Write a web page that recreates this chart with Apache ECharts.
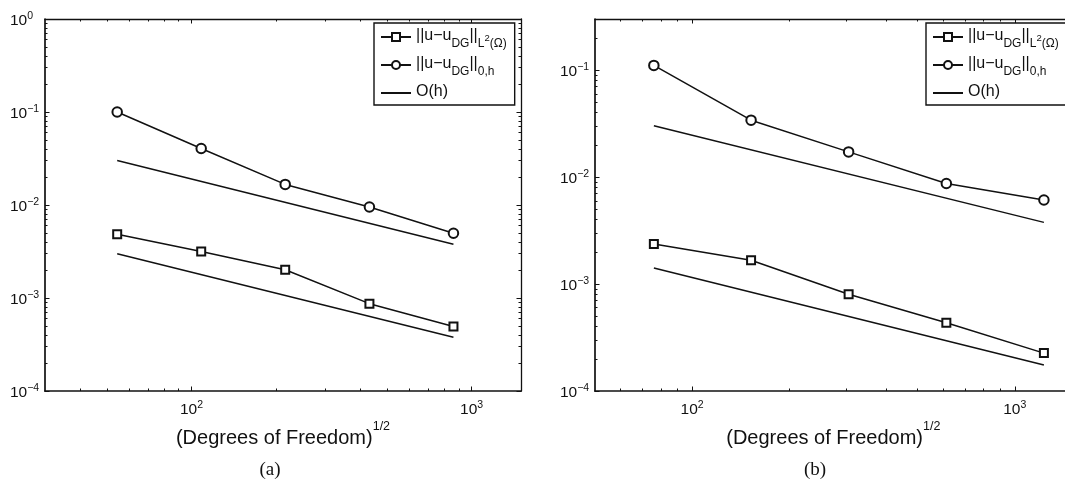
<!DOCTYPE html>
<html><head><meta charset="utf-8">
<script src="https://cdn.jsdelivr.net/npm/echarts@6/dist/echarts.min.js"></script>
<style>html,body{margin:0;padding:0;background:#fff}#c{width:1065px;height:481px}</style>
</head><body><div id="c"></div>
<script>
// ---------- data, panel (a) ----------
const xA   = [54.3, 108.3, 216, 431.6, 861];
const l2A  = [0.00485, 0.00316, 0.00201, 0.000869, 0.000493];
const h0A  = [0.1, 0.0405, 0.01665, 0.00952, 0.00497];
const ohXA = [54.3, 861];
const ohUpA  = [0.0301, 0.00379];
const ohLowA = [0.00299, 0.000379];
// ---------- data, panel (b) ----------
const xB   = [76.1, 152.3, 305.5, 613.6, 1231];
const l2B  = [0.002366, 0.001667, 0.000803, 0.000434, 0.000226];
const h0B  = [0.1105, 0.034, 0.01718, 0.0087, 0.0061];
const ohXB = [76.1, 1231];
const ohUpB  = [0.0301, 0.00377];
const ohLowB = [0.00141, 0.000175];
// ---------- ticks ----------
const majorXTicks  = [100, 1000];
const majorYTicksA = [0.0001, 0.001, 0.01, 0.1, 1];
const majorYTicksB = [0.0001, 0.001, 0.01, 0.1];
const minorXTicksA = [40, 50, 60, 70, 80, 90, 200, 300, 400, 500, 600, 700, 800, 900];
const minorXTicksB = [60, 70, 80, 90, 200, 300, 400, 500, 600, 700, 800, 900];
const minorYTicksA = [0.0002,0.0003,0.0004,0.0005,0.0006,0.0007,0.0008,0.0009,
                      0.002,0.003,0.004,0.005,0.006,0.007,0.008,0.009,
                      0.02,0.03,0.04,0.05,0.06,0.07,0.08,0.09,
                      0.2,0.3,0.4,0.5,0.6,0.7,0.8,0.9];
const minorYTicksB = [0.0002,0.0003,0.0004,0.0005,0.0006,0.0007,0.0008,0.0009,
                      0.002,0.003,0.004,0.005,0.006,0.007,0.008,0.009,
                      0.02,0.03,0.04,0.05,0.06,0.07,0.08,0.09,
                      0.2];
const xLabelText = '(Degrees of Freedom)';
const xLabelSup = '1/2';
const seriesNames = ['L2', 'H0', 'OH'];
const legendText = {
  L2: '{m|||u\u2212u}{s|DG}{m|||}{s|L}{p|2}{s|(\u03a9)}',
  H0: '{m|||u\u2212u}{s|DG}{m|||}{s|0,h}',
  OH: '{m|O(h)}'
};

const FONT = '"Liberation Sans", Arial, Helvetica, sans-serif';
const INK = '#111';

function expLabel(v) {
  const e = Math.round(Math.log10(v));
  return '{b|10}{e|' + String(e).replace('-', '\u2212') + '}';
}
const xRich = {
  b: {fontSize: 15.5, fontFamily: FONT, color: INK, lineHeight: 16, padding: [3, 0, 0, 0]},
  e: {fontSize: 10.5, fontFamily: FONT, color: INK, lineHeight: 11, verticalAlign: 'top'}
};
const yRich = {
  b: {fontSize: 15.5, fontFamily: FONT, color: INK, lineHeight: 16, padding: [3, 0, 0, 0]},
  e: {fontSize: 10.5, fontFamily: FONT, color: INK, lineHeight: 11, verticalAlign: 'top'}
};
const nameRich = {
  n: {fontSize: 20, fontFamily: FONT, color: INK, lineHeight: 22, padding: [14, 0, 0, 0]},
  s: {fontSize: 12.5, fontFamily: FONT, color: INK, lineHeight: 13, verticalAlign: 'top'}
};
const legendRich = {
  m: {fontSize: 16, fontFamily: FONT, color: INK, lineHeight: 18, verticalAlign: 'top'},
  s: {fontSize: 12, fontFamily: FONT, color: INK, lineHeight: 13, padding: [10, 0, 0, 0], verticalAlign: 'top'},
  p: {fontSize: 9.5, fontFamily: FONT, color: INK, lineHeight: 10, padding: [5, 0, 0, 0], verticalAlign: 'top'}
};

function xAxis(grid, min, max, position, ticks, len, showLabel, showLine, withName) {
  return {
    type: 'log', logBase: 10, gridIndex: grid, min: min, max: max, position: position,
    axisLine: {show: showLine, onZero: false, lineStyle: {color: INK, width: position === 'bottom' ? 1.7 : 1.3}},
    axisTick: {show: true, inside: true, length: len, customValues: ticks, lineStyle: {color: INK, width: 1}},
    axisLabel: {show: showLabel, customValues: ticks, formatter: expLabel, margin: 9, rich: xRich},
    splitLine: {show: false}, minorTick: {show: false},
    name: withName ? '{n|' + xLabelText + '}{s|' + xLabelSup + '}' : '',
    nameLocation: 'middle', nameGap: 29, nameMoveOverlap: false,
    nameTextStyle: {rich: nameRich, fontFamily: FONT, color: INK}
  };
}
function yAxis(grid, min, max, position, ticks, len, showLabel, showLine) {
  return {
    type: 'log', logBase: 10, gridIndex: grid, min: min, max: max, position: position,
    axisLine: {show: showLine, onZero: false, lineStyle: {color: INK, width: position === 'left' ? 1.7 : 1.3}},
    axisTick: {show: true, inside: true, length: len, customValues: ticks, lineStyle: {color: INK, width: 1}},
    axisLabel: {show: showLabel, customValues: ticks, formatter: expLabel, margin: 35, align: 'left', rich: yRich},
    splitLine: {show: false}, minorTick: {show: false}
  };
}
function panelX(grid, min, max, minor) {
  return [
    xAxis(grid, min, max, 'bottom', majorXTicks, 4.5, true, true, true),
    xAxis(grid, min, max, 'top', majorXTicks, 4.5, false, true, false),
    xAxis(grid, min, max, 'bottom', minor, 2.5, false, false, false),
    xAxis(grid, min, max, 'top', minor, 2.5, false, false, false)
  ];
}
function panelY(grid, min, max, major, minor) {
  return [
    yAxis(grid, min, max, 'left', major, 4.5, true, true),
    yAxis(grid, min, max, 'right', major, 4.5, false, true),
    yAxis(grid, min, max, 'left', minor, 2.5, false, false),
    yAxis(grid, min, max, 'right', minor, 2.5, false, false)
  ];
}
function pairs(xs, ys) { return xs.map((x, i) => [x, ys[i]]); }
function line(name, xs, ys, axisIdx, symbol, size) {
  return {
    type: 'line', name: name, xAxisIndex: axisIdx, yAxisIndex: axisIdx,
    data: pairs(xs, ys), symbol: symbol, symbolSize: size, showSymbol: symbol !== 'none',
    lineStyle: {color: INK, width: 1.5},
    itemStyle: {color: INK, borderColor: INK, borderWidth: 1.3},
    emphasis: {disabled: true}, silent: true, animation: false
  };
}
function legend(left) {
  return {
    orient: 'vertical', left: left, top: 23,
    data: [{name: 'L2'}, {name: 'H0'}, {name: 'OH', itemStyle: {opacity: 0}}],
    formatter: n => legendText[n],
    itemWidth: 30, itemHeight: 10, itemGap: 6, padding: [5, 8, 5, 6],
    backgroundColor: '#fff', borderColor: INK, borderWidth: 1.4, borderRadius: 0,
    textStyle: {fontFamily: FONT, color: INK, fontSize: 16, rich: legendRich},
    selectedMode: false
  };
}

const chart = echarts.init(document.getElementById('c'), null, {renderer: 'canvas'});
chart.setOption({
  animation: false,
  backgroundColor: '#fff',
  grid: [
    {left: 45, top: 19, width: 476, height: 372, outerBoundsMode: 'none', containLabel: false},
    {left: 595, top: 19, width: 476.6, height: 372, outerBoundsMode: 'none', containLabel: false}
  ],
  xAxis: panelX(0, 30, 1500, minorXTicksA).concat(panelX(1, 50, 1500, minorXTicksB)),
  yAxis: panelY(0, 0.0001, 1, majorYTicksA, minorYTicksA).concat(panelY(1, 0.0001, 0.3, majorYTicksB, minorYTicksB)),
  legend: [legend(374), legend(926)],
  series: [
    line('L2', xA, l2A, 0, 'emptyRect', 8),
    line('H0', xA, h0A, 0, 'emptyCircle', 9.5),
    line('OH', ohXA, ohUpA, 0, 'none', 0),
    line('OH', ohXA, ohLowA, 0, 'none', 0),
    line('L2', xB, l2B, 4, 'emptyRect', 8),
    line('H0', xB, h0B, 4, 'emptyCircle', 9.5),
    line('OH', ohXB, ohUpB, 4, 'none', 0),
    line('OH', ohXB, ohLowB, 4, 'none', 0)
  ],
  graphic: [
    {type: 'text', x: 270, y: 470, style: {text: '(a)', font: '19px "Liberation Serif", "DejaVu Serif", serif', fill: INK, textAlign: 'center', textVerticalAlign: 'middle'}},
    {type: 'text', x: 815, y: 470, style: {text: '(b)', font: '19px "Liberation Serif", "DejaVu Serif", serif', fill: INK, textAlign: 'center', textVerticalAlign: 'middle'}}
  ]
});
</script>
</body></html>
